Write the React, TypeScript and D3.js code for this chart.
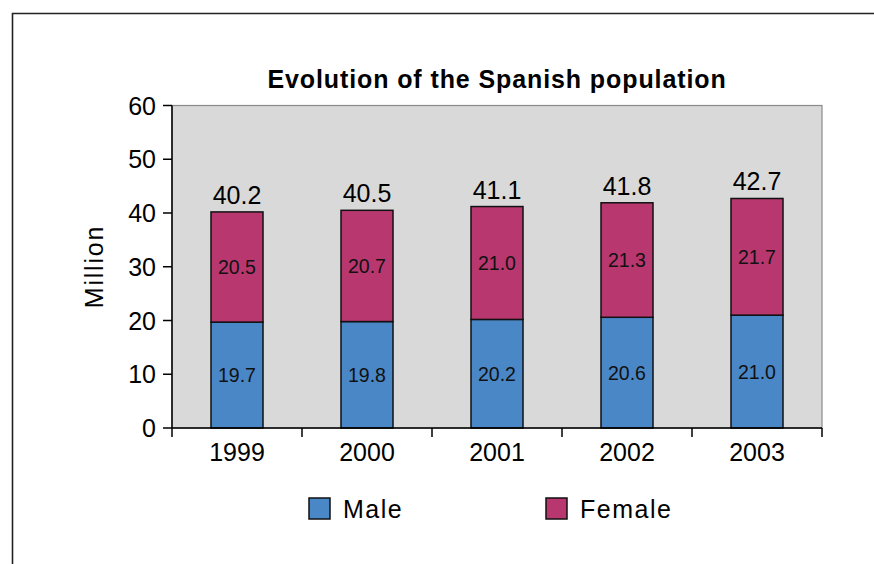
import React from "react";
import * as d3 from "d3";

const years = ["1999", "2000", "2001", "2002", "2003"];
const male = [19.7, 19.8, 20.2, 20.6, 21.0];
const female = [20.5, 20.7, 21.0, 21.3, 21.7];
const totals = [40.2, 40.5, 41.1, 41.8, 42.7];
const yTicks = [0, 10, 20, 30, 40, 50, 60];
const seriesNames = ["Male", "Female"];
const seriesColors = ["#4a87c6", "#b8376f"];

const W = 874;
const H = 564;
const plot = { left: 172, right: 822, top: 105.5, bottom: 428 };
const FONT = "'Liberation Sans', Arial, sans-serif";

export default function App() {
  const x = d3
    .scaleBand<string>()
    .domain(years)
    .range([plot.left, plot.right])
    .paddingInner(0.6)
    .paddingOuter(0.3);
  const band = d3.scaleBand<string>().domain(years).range([plot.left, plot.right]);
  const y = d3.scaleLinear().domain([0, 60]).range([plot.bottom, plot.top]);

  const rows = years.map((yr, i) => ({ year: yr, Male: male[i], Female: female[i] }));
  const stacked = d3.stack<any>().keys(seriesNames)(rows);

  return (
    <svg
      width={W}
      height={H}
      style={{ position: "absolute", left: 0, top: 0, background: "#fff" }}
      fontFamily={FONT}
    >
      {/* outer frame */}
      <path d={`M12.5,${H + 5} V13.5 H${W + 5}`} fill="none" stroke="#222" strokeWidth={1.6} />

      <text
        x={(plot.left + plot.right) / 2}
        y={88}
        textAnchor="middle"
        fontWeight="bold"
        fontSize={25}
        letterSpacing={0.9}
        fill="#000"
      >
        Evolution of the Spanish population
      </text>

      {/* plot area */}
      <rect
        x={plot.left}
        y={plot.top}
        width={plot.right - plot.left}
        height={plot.bottom - plot.top}
        fill="#d9d9d9"
        stroke="#8a8a8a"
        strokeWidth={1.2}
      />

      {/* stacked bars */}
      {stacked.map((layer, si) =>
        layer.map((d, i) => (
          <rect
            key={`${si}-${i}`}
            x={x(years[i])}
            y={y(d[1])}
            width={x.bandwidth()}
            height={y(d[0]) - y(d[1])}
            fill={seriesColors[si]}
            stroke="#111"
            strokeWidth={1.5}
          />
        ))
      )}

      {/* segment labels */}
      {stacked.map((layer, si) =>
        layer.map((d, i) => (
          <text
            key={`l-${si}-${i}`}
            x={(x(years[i]) as number) + x.bandwidth() / 2}
            y={y((d[0] + d[1]) / 2) + 7}
            textAnchor="middle"
            fontSize={19.5}
            fill="#111"
          >
            {(si === 0 ? male[i] : female[i]).toFixed(1)}
          </text>
        ))
      )}

      {/* totals */}
      {totals.map((t, i) => (
        <text
          key={`t-${i}`}
          x={(x(years[i]) as number) + x.bandwidth() / 2}
          y={y(t) - 8}
          textAnchor="middle"
          fontSize={25}
          fill="#000"
        >
          {t.toFixed(1)}
        </text>
      ))}

      {/* y axis */}
      <line x1={plot.left} x2={plot.left} y1={plot.top} y2={plot.bottom} stroke="#000" strokeWidth={1.5} />
      {yTicks.map((t) => (
        <g key={`yt-${t}`}>
          <line x1={plot.left - 9} x2={plot.left} y1={y(t)} y2={y(t)} stroke="#000" strokeWidth={1.5} />
          <text x={plot.left - 16} y={y(t) + 9} textAnchor="end" fontSize={25} fill="#000">
            {t}
          </text>
        </g>
      ))}

      {/* x axis */}
      <line x1={plot.left} x2={plot.right} y1={plot.bottom} y2={plot.bottom} stroke="#000" strokeWidth={1.5} />
      {years.concat(["end"]).map((yr, i) => {
        const px = i < years.length ? (band(yr) as number) : plot.right;
        return (
          <line key={`xt-${i}`} x1={px} x2={px} y1={plot.bottom} y2={plot.bottom + 9} stroke="#000" strokeWidth={1.5} />
        );
      })}
      {years.map((yr) => (
        <text
          key={`xl-${yr}`}
          x={(band(yr) as number) + band.bandwidth() / 2}
          y={461}
          textAnchor="middle"
          fontSize={25}
          fill="#000"
        >
          {yr}
        </text>
      ))}

      <text
        transform={`translate(103,266.5) rotate(-90)`}
        textAnchor="middle"
        fontSize={25}
        letterSpacing={1.8}
        fill="#000"
      >
        Million
      </text>

      {/* legend */}
      {seriesNames.map((name, i) => {
        const lx = i === 0 ? 309 : 546;
        return (
          <g key={`lg-${name}`}>
            <rect x={lx} y={498} width={21} height={21} fill={seriesColors[i]} stroke="#111" strokeWidth={1.5} />
            <text x={lx + 34} y={518} fontSize={25} letterSpacing={1.5} fill="#000">
              {name}
            </text>
          </g>
        );
      })}
    </svg>
  );
}
